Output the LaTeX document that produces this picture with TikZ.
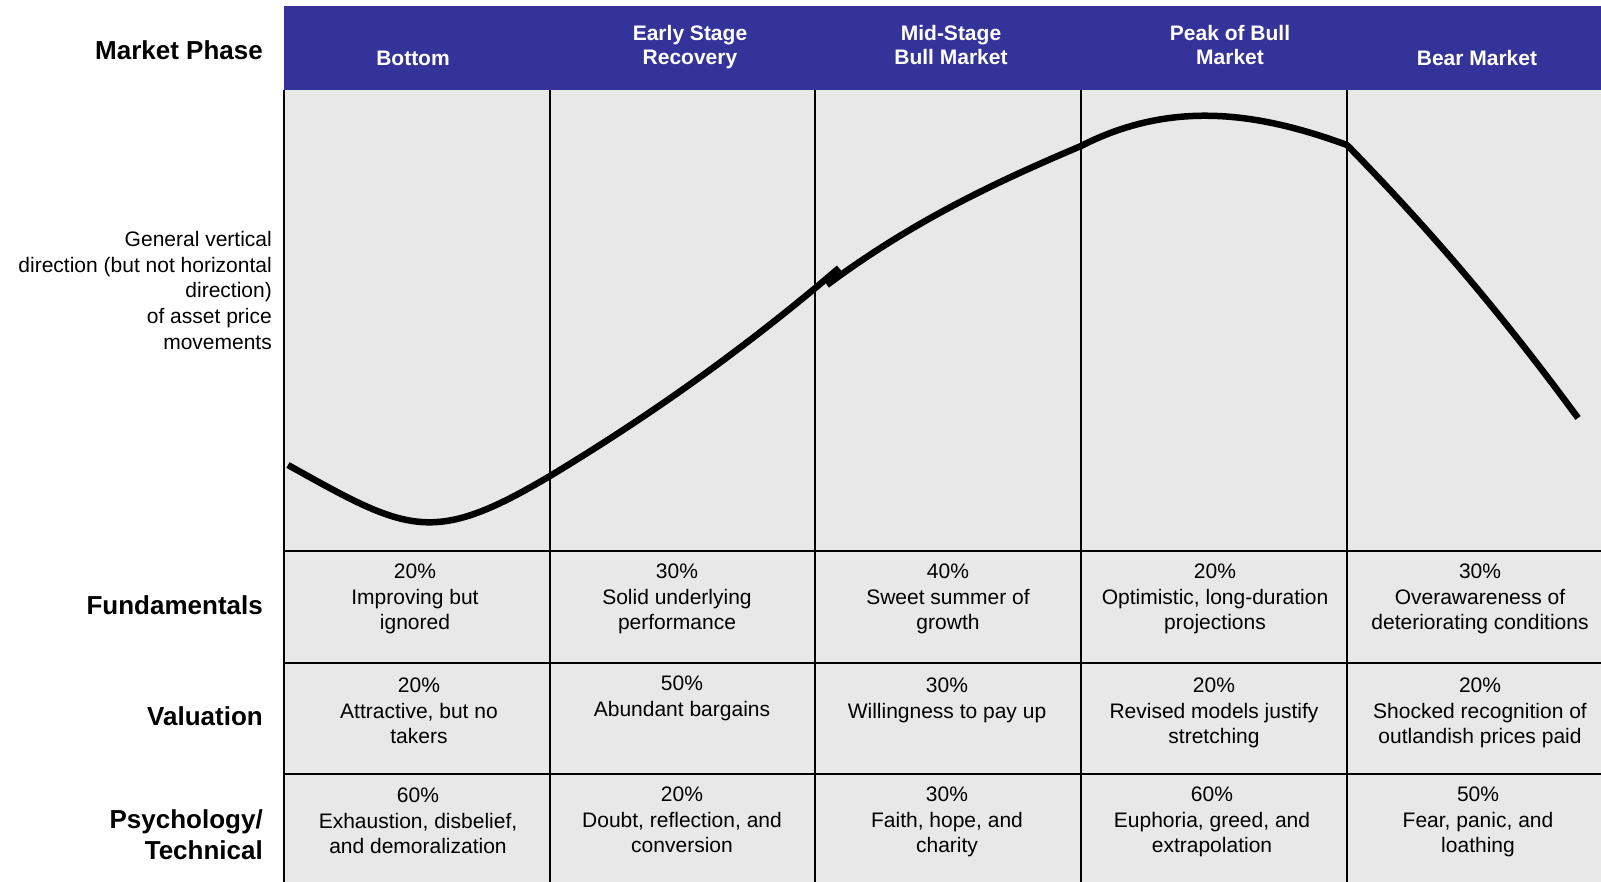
\documentclass[tikz,border=0pt]{standalone}
\usepackage{fontspec}
\setmainfont{Liberation Sans}
\usetikzlibrary{positioning}
\definecolor{phaseblue}{RGB}{51,51,153}
\definecolor{panelgray}{RGB}{232,232,232}

\begin{document}
\begin{tikzpicture}[
    x=1pt, y=-1pt,
    grid/.style={line width=1.8pt},
    curve/.style={line width=6.5pt},
    phase/.style={anchor=north, inner sep=0pt, align=center, text=white,
        font=\fontsize{21}{24.5}\selectfont\bfseries},
    rowlbl/.style={anchor=east, inner sep=0pt, align=right,
        font=\fontsize{26}{31.7}\selectfont\bfseries},
    cell/.style={anchor=north, inner sep=0pt, align=center,
        font=\fontsize{21}{25.5}\selectfont}
]
\useasboundingbox (0,0) rectangle (1601,882);
% Panel and header band
\fill[panelgray] (284,90) rectangle (1601,882);
\fill[phaseblue] (284,6) rectangle (1601,90);
% Phase names
\node[phase] (bottom) at (413,50.5) {Bottom};
\node[phase] (early) at (690,25) {Early Stage\\Recovery};
\node[phase] (mid) at (951,25) {Mid-Stage\\Bull Market};
\node[phase] (peak) at (1230,25) {Peak of Bull\\Market};
\node[phase] (bear) at (1477,50.5) {Bear Market};
% Column and row rules
\foreach \x in {284, 550, 815, 1081, 1347} {
    \draw[grid] (\x,90) -- (\x,882);
}
\foreach \y in {551, 663, 774} {
    \draw[grid] (284,\y) -- (1601,\y);
}
% Price path through the cycle
\draw[curve] (288,465) .. controls (408,532) and (432,546) .. (550,476)
    .. controls (646,418) and (742,351) .. (839,268);
\draw[curve] (827,285) .. controls (913,221) and (996,182) .. (1081,146)
    .. controls (1171,100) and (1257,112) .. (1347,145)
    .. controls (1427,227) and (1498,309) .. (1578,418);
% Row labels
\node[rowlbl] (phaselbl) at (263,50) {Market Phase};
\node[rowlbl] (fundlbl) at (263,605) {Fundamentals};
\node[rowlbl] (valulbl) at (263,716) {Valuation};
\node[rowlbl, anchor=north east] (psychlbl) at (263,809) {Psychology/\\Technical};
\node[anchor=north east, inner sep=0pt, align=right, font=\fontsize{21}{25.7}\selectfont]
    (pricenote) at (272,231) {General vertical\\direction (but not horizontal\\direction)\\of asset price\\movements};
% Fundamentals
\node[cell] (fund1) at (415,564) {20\%\\Improving but\\ignored};
\node[cell] (fund2) at (677,564) {30\%\\Solid underlying\\performance};
\node[cell] (fund3) at (948,564) {40\%\\Sweet summer of\\growth};
\node[cell] (fund4) at (1215,564) {20\%\\Optimistic, long-duration\\projections};
\node[cell] (fund5) at (1480,564) {30\%\\Overawareness of\\deteriorating conditions};
% Valuation
\node[cell] (valu1) at (419,678) {20\%\\Attractive, but no\\takers};
\node[cell] (valu2) at (682,676) {50\%\\Abundant bargains};
\node[cell] (valu3) at (947,678) {30\%\\Willingness to pay up};
\node[cell] (valu4) at (1214,678) {20\%\\Revised models justify\\stretching};
\node[cell] (valu5) at (1480,678) {20\%\\Shocked recognition of\\outlandish prices paid};
% Psychology / technical
\node[cell] (psych1) at (418,788) {60\%\\Exhaustion, disbelief,\\and demoralization};
\node[cell] (psych2) at (682,787) {20\%\\Doubt, reflection, and\\conversion};
\node[cell] (psych3) at (947,787) {30\%\\Faith, hope, and\\charity};
\node[cell] (psych4) at (1212,787) {60\%\\Euphoria, greed, and\\extrapolation};
\node[cell] (psych5) at (1478,787) {50\%\\Fear, panic, and\\loathing};
\end{tikzpicture}
\end{document}
